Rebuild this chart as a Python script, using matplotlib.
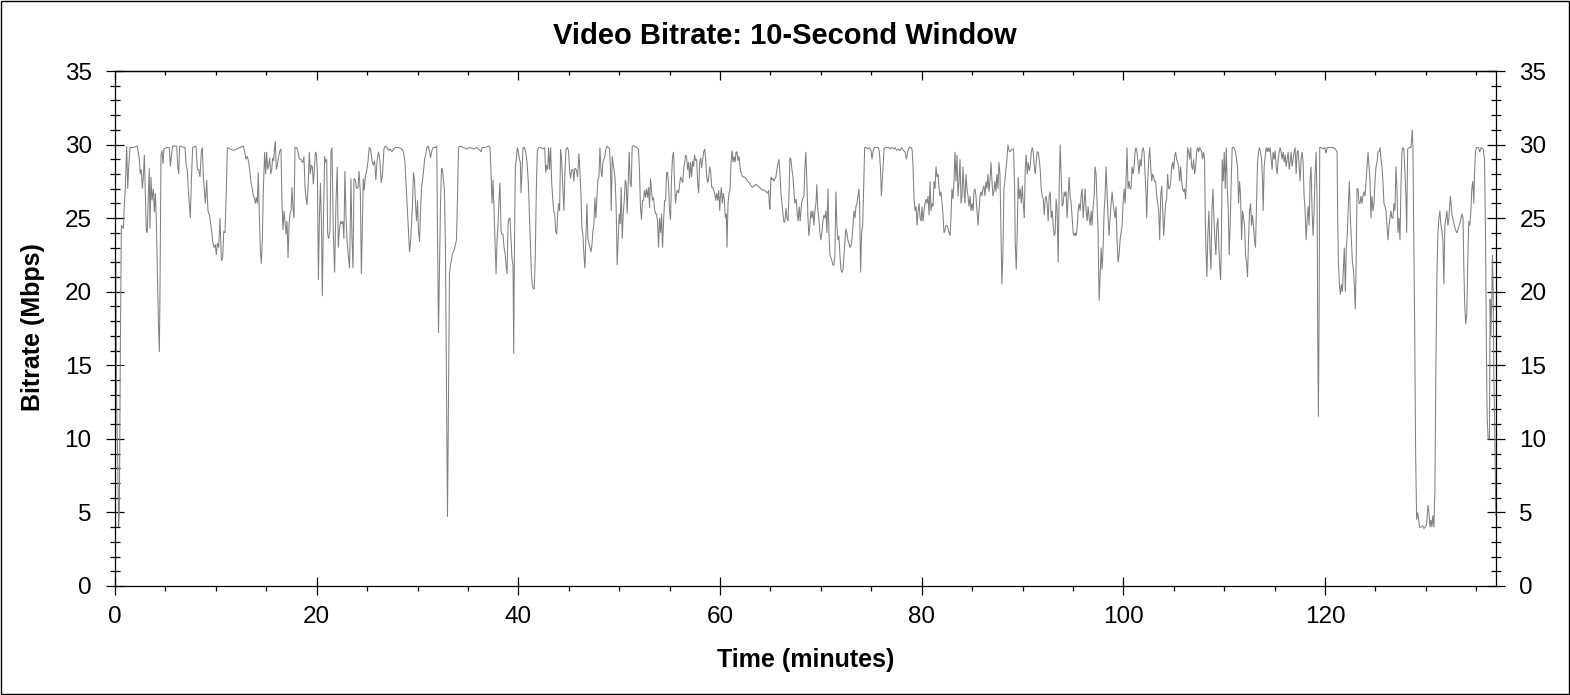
import matplotlib
matplotlib.use("Agg")
import matplotlib.pyplot as plt
from matplotlib.ticker import MultipleLocator
from matplotlib.patches import Rectangle

# ---------------- chart text ----------------
title_text = "Video Bitrate: 10-Second Window"
x_label = "Time (minutes)"
y_label = "Bitrate (Mbps)"
x_ticks = [0, 20, 40, 60, 80, 100, 120]
y_ticks = [0, 5, 10, 15, 20, 25, 30, 35]
x_max = 136.95
y_max = 35

# ---------------- data: (minute, Mbps) ----------------
samples_0_21 = [
    (0.0, 0.5), (0.03, 7.5), (0.07, 22.0), (0.17, 12.0), (0.26, 9.0), (0.36, 4.0), (0.43, 5.0),
    (0.53, 16.0), (0.63, 24.5), (0.83, 24.3), (0.93, 26.0), (1.02, 27.0), (1.16, 29.9), (1.26, 27.0),
    (1.36, 28.5), (1.49, 29.8), (1.82, 29.8), (2.21, 29.9), (2.41, 29.0), (2.51, 28.0), (2.61, 28.3),
    (2.71, 27.0), (2.81, 27.8), (2.91, 29.3), (3.0, 27.0), (3.1, 24.2), (3.2, 24.0), (3.3, 26.5),
    (3.4, 28.4), (3.47, 24.3), (3.57, 27.8), (3.67, 26.2), (3.8, 27.0), (3.9, 25.4), (4.0, 26.7),
    (4.1, 24.8), (4.2, 21.3), (4.3, 18.0), (4.4, 15.9), (4.46, 20.0), (4.56, 29.3), (4.66, 29.6),
    (4.76, 28.7), (4.86, 29.7), (5.12, 29.8), (5.39, 29.8), (5.49, 28.5), (5.59, 29.2), (5.72, 29.9),
    (6.12, 29.9), (6.22, 28.5), (6.32, 28.0), (6.41, 29.9), (6.94, 29.8), (7.07, 28.5), (7.17, 28.3),
    (7.27, 26.9), (7.37, 26.0), (7.47, 25.0), (7.57, 27.5), (7.7, 29.8), (8.03, 29.9), (8.17, 28.3),
    (8.3, 28.3), (8.43, 27.8), (8.56, 29.5), (8.66, 29.8), (8.76, 27.8), (8.86, 26.9), (8.96, 26.0),
    (9.09, 27.6), (9.22, 25.5), (9.36, 25.2), (9.45, 24.8), (9.59, 24.1), (9.69, 23.4), (9.82, 23.0),
    (9.95, 23.2), (10.05, 22.5), (10.15, 23.3), (10.28, 23.0), (10.41, 25.0), (10.55, 22.1),
    (10.68, 22.3), (10.78, 24.1), (10.91, 24.0), (11.04, 26.9), (11.14, 29.8), (11.4, 29.7),
    (11.74, 29.6), (12.07, 29.7), (12.4, 29.8), (12.73, 29.9), (12.86, 29.5), (12.99, 29.0),
    (13.12, 29.2), (13.26, 28.8), (13.39, 28.1), (13.49, 27.4), (13.59, 27.1), (13.72, 26.5),
    (13.82, 26.4), (13.92, 26.0), (14.02, 26.4), (14.12, 26.0), (14.21, 28.1), (14.31, 25.3),
    (14.41, 22.9), (14.51, 21.9), (14.61, 23.5), (14.71, 26.9), (14.84, 29.5), (14.94, 28.0),
    (15.04, 29.5), (15.14, 28.3), (15.24, 28.6), (15.34, 29.1), (15.44, 28.0), (15.54, 28.3),
    (15.64, 29.1), (15.74, 28.9), (15.83, 29.8), (15.9, 30.2), (16.0, 28.3), (16.1, 28.6),
    (16.23, 29.2), (16.36, 29.6), (16.46, 29.7), (16.56, 26.0), (16.66, 24.2), (16.76, 25.5),
    (16.86, 24.8), (16.96, 23.9), (17.06, 24.8), (17.16, 22.3), (17.26, 24.6), (17.36, 25.3),
    (17.46, 25.5), (17.55, 27.1), (17.65, 25.7), (17.75, 25.0), (17.85, 29.8), (18.02, 29.8),
    (18.15, 29.5), (18.25, 29.1), (18.35, 29.0), (18.45, 29.0), (18.55, 28.8), (18.64, 28.8),
    (18.74, 29.2), (18.84, 27.1), (18.94, 26.4), (19.04, 25.9), (19.14, 27.0), (19.27, 29.5),
    (19.37, 28.0), (19.47, 28.6), (19.57, 28.5), (19.67, 27.3), (19.77, 28.3), (19.87, 29.5),
    (19.97, 29.4), (20.07, 28.1), (20.17, 20.8), (20.27, 25.0), (20.37, 27.4), (20.47, 24.8),
    (20.56, 19.7), (20.66, 24.5), (20.79, 29.2), (20.89, 28.8), (20.99, 29.0), (21.09, 23.9),
    (21.19, 23.6), (21.32, 24.2),
]

samples_21_44 = [
    (21.42, 29.5), (21.52, 29.8), (21.65, 24.0), (21.78, 21.3), (21.91, 26.0), (22.04, 28.5),
    (22.14, 23.0), (22.24, 24.1), (22.37, 24.8), (22.5, 24.6), (22.6, 24.8), (22.7, 23.6),
    (22.8, 28.2), (22.9, 25.3), (23.0, 23.6), (23.13, 22.5), (23.26, 21.6), (23.4, 27.7),
    (23.5, 23.6), (23.6, 21.6), (23.7, 27.7), (23.83, 27.6), (23.96, 27.0), (24.1, 27.1),
    (24.2, 28.2), (24.33, 26.7), (24.43, 21.2), (24.52, 24.1), (24.62, 27.7), (24.72, 26.9),
    (24.82, 27.8), (24.95, 28.2), (25.08, 28.8), (25.21, 29.8), (25.34, 29.7), (25.48, 28.9),
    (25.61, 28.6), (25.74, 28.9), (25.87, 27.6), (26.0, 29.0), (26.14, 29.5), (26.27, 28.9),
    (26.4, 27.4), (26.53, 28.0), (26.67, 29.7), (26.8, 29.9), (26.96, 29.8), (27.13, 29.6),
    (27.3, 29.7), (27.46, 29.5), (27.63, 29.7), (27.79, 29.8), (28.12, 29.8), (28.45, 29.7),
    (28.61, 29.5), (28.75, 28.8), (28.88, 27.1), (29.01, 25.5), (29.11, 24.1), (29.21, 22.7),
    (29.31, 23.4), (29.41, 24.6), (29.5, 26.0), (29.6, 28.1), (29.7, 27.6), (29.8, 26.0),
    (29.9, 24.8), (30.0, 26.2), (30.1, 24.1), (30.2, 23.4), (30.3, 25.5), (30.4, 27.1),
    (30.5, 27.6), (30.6, 28.2), (30.7, 29.0), (30.8, 29.3), (30.93, 29.8), (31.06, 29.9),
    (31.2, 29.5), (31.29, 29.1), (31.39, 29.5), (31.53, 29.8), (31.76, 29.8), (31.91, 29.9),
    (31.98, 24.1), (32.08, 17.2), (32.18, 21.8), (32.28, 26.0), (32.38, 28.4), (32.47, 28.3),
    (32.57, 27.6), (32.67, 26.9), (32.77, 22.9), (32.87, 13.5), (32.97, 4.7), (33.04, 10.0),
    (33.1, 15.4), (33.17, 21.3), (33.27, 21.8), (33.37, 22.2), (33.47, 22.6), (33.56, 22.7),
    (33.66, 22.9), (33.76, 23.2), (33.86, 23.5), (33.96, 26.2), (34.06, 29.8), (34.22, 29.9),
    (34.55, 29.8), (34.88, 29.7), (35.21, 29.8), (35.54, 29.7), (35.87, 29.8), (36.2, 29.6),
    (36.3, 29.5), (36.4, 29.8), (36.7, 29.8), (37.03, 29.9), (37.19, 29.8), (37.29, 28.1),
    (37.39, 26.0), (37.49, 27.6), (37.59, 25.5), (37.69, 23.6), (37.79, 21.2), (37.89, 23.6),
    (37.99, 24.6), (38.09, 26.4), (38.18, 27.4), (38.28, 24.1), (38.38, 23.9), (38.48, 23.9),
    (38.58, 23.0), (38.68, 22.6), (38.78, 21.8), (38.88, 21.2), (38.98, 24.6), (39.08, 25.0),
    (39.17, 25.0), (39.27, 23.6), (39.37, 22.2), (39.47, 21.8), (39.54, 15.8), (39.6, 22.2),
    (39.7, 28.5), (39.8, 29.0), (39.9, 29.8), (40.0, 29.5), (40.1, 29.0), (40.2, 28.8),
    (40.26, 26.7), (40.36, 28.1), (40.46, 29.8), (40.59, 29.8), (40.73, 29.5), (40.86, 28.8),
    (40.99, 27.4), (41.09, 25.3), (41.19, 23.2), (41.29, 21.3), (41.39, 20.4), (41.49, 20.2),
    (41.58, 20.2), (41.68, 22.5), (41.78, 26.9), (41.88, 29.6), (42.01, 29.8), (42.21, 29.8),
    (42.48, 29.7), (42.61, 29.8), (42.71, 28.1), (42.81, 28.6), (42.91, 28.3), (43.0, 29.8),
    (43.1, 28.3), (43.2, 29.8), (43.3, 27.5), (43.4, 26.4), (43.5, 25.5), (43.6, 25.3),
    (43.7, 24.1), (43.8, 23.9), (43.9, 25.3), (44.0, 26.0),
]

samples_44_67 = [
    (44.09, 25.5), (44.19, 29.7), (44.29, 29.0), (44.42, 26.9), (44.52, 25.5), (44.62, 28.1),
    (44.72, 29.7), (44.88, 29.8), (44.98, 29.5), (45.08, 28.3), (45.18, 27.7), (45.28, 28.3),
    (45.41, 28.3), (45.5, 27.5), (45.6, 28.4), (45.74, 28.3), (45.87, 27.8), (46.0, 29.4),
    (46.1, 28.3), (46.2, 26.7), (46.3, 24.3), (46.4, 23.9), (46.5, 22.5), (46.6, 21.6),
    (46.7, 23.9), (46.8, 26.0), (46.9, 23.6), (47.0, 23.3), (47.1, 23.0), (47.2, 22.7),
    (47.3, 23.2), (47.39, 24.1), (47.49, 24.6), (47.59, 26.4), (47.69, 25.0), (47.79, 26.4),
    (47.89, 27.6), (47.99, 27.8), (48.09, 29.8), (48.19, 28.3), (48.29, 27.8), (48.38, 28.8),
    (48.48, 29.0), (48.58, 29.2), (48.68, 29.7), (48.81, 29.9), (48.94, 29.8), (49.04, 29.7),
    (49.14, 28.3), (49.21, 25.5), (49.31, 29.2), (49.41, 28.6), (49.51, 28.2), (49.6, 27.6),
    (49.7, 25.7), (49.8, 21.8), (49.9, 23.6), (50.0, 25.3), (50.1, 24.6), (50.2, 27.1),
    (50.3, 23.6), (50.4, 25.3), (50.5, 26.2), (50.6, 27.6), (50.69, 27.4), (50.79, 25.3),
    (50.89, 27.4), (50.99, 29.5), (51.09, 27.4), (51.19, 27.1), (51.29, 29.9), (51.52, 29.9),
    (51.75, 29.8), (51.91, 29.7), (52.01, 28.3), (52.11, 25.7), (52.21, 24.9), (52.31, 26.2),
    (52.41, 26.2), (52.51, 26.9), (52.61, 26.4), (52.71, 27.0), (52.81, 26.4), (52.91, 27.1),
    (53.01, 25.7), (53.1, 27.7), (53.2, 26.9), (53.3, 26.2), (53.4, 26.4), (53.5, 25.7),
    (53.6, 25.3), (53.7, 25.3), (53.8, 24.8), (53.9, 23.0), (54.0, 25.0), (54.1, 24.0),
    (54.2, 25.3), (54.3, 23.0), (54.4, 24.8), (54.5, 26.2), (54.6, 26.2), (54.7, 28.1),
    (54.79, 28.1), (54.89, 27.4), (54.99, 25.5), (55.09, 24.9), (55.19, 27.7), (55.29, 29.2),
    (55.39, 29.5), (55.49, 27.4), (55.59, 26.0), (55.69, 26.7), (55.79, 26.9), (55.89, 26.7),
    (55.99, 27.3), (56.09, 27.8), (56.19, 27.6), (56.29, 27.4), (56.39, 28.3), (56.49, 28.8),
    (56.59, 29.3), (56.69, 29.1), (56.78, 28.3), (56.88, 28.8), (56.98, 27.7), (57.08, 28.8),
    (57.18, 27.8), (57.28, 28.9), (57.38, 28.5), (57.48, 29.3), (57.58, 28.9), (57.68, 29.0),
    (57.78, 27.4), (57.88, 26.7), (57.98, 28.8), (58.08, 29.1), (58.18, 28.4), (58.28, 29.0),
    (58.38, 29.5), (58.48, 29.7), (58.58, 29.0), (58.68, 27.8), (58.78, 27.4), (58.88, 27.8),
    (58.98, 28.5), (59.08, 28.1), (59.17, 27.1), (59.27, 27.1), (59.37, 26.9), (59.47, 26.7),
    (59.57, 26.2), (59.67, 26.7), (59.77, 26.2), (59.87, 26.9), (59.97, 25.5), (60.03, 26.4),
    (60.13, 27.1), (60.23, 26.0), (60.33, 26.7), (60.43, 26.2), (60.53, 25.0), (60.63, 25.3),
    (60.69, 23.0), (60.79, 26.0), (60.89, 26.7), (60.99, 26.9), (61.09, 28.8), (61.19, 29.6),
    (61.29, 28.8), (61.39, 29.2), (61.49, 28.8), (61.59, 29.5), (61.68, 29.5), (61.78, 28.9),
    (61.88, 29.2), (61.98, 28.5), (62.08, 28.1), (62.24, 27.8), (62.41, 27.8), (62.57, 27.7),
    (62.74, 27.5), (62.9, 27.4), (63.07, 27.2), (63.23, 27.1), (63.4, 27.2), (63.56, 27.3),
    (63.73, 27.2), (63.89, 27.1), (64.06, 27.0), (64.22, 26.9), (64.39, 26.9), (64.55, 26.8),
    (64.72, 26.7), (64.82, 26.9), (64.88, 26.0), (64.95, 25.6), (65.05, 27.8), (65.15, 27.6),
    (65.25, 27.7), (65.35, 27.5), (65.45, 27.7), (65.54, 27.8), (65.64, 28.3), (65.74, 28.7),
    (65.84, 29.0), (65.94, 28.1), (66.04, 26.7), (66.14, 26.0), (66.24, 25.3), (66.34, 24.7),
    (66.44, 24.8), (66.54, 25.7), (66.64, 25.0), (66.74, 24.8), (66.83, 26.4), (66.93, 29.1),
    (67.03, 29.0), (67.13, 28.3), (67.23, 27.8), (67.33, 26.8),
]

samples_67_89 = [
    (67.42, 26.0), (67.55, 26.3), (67.65, 25.3), (67.75, 24.8), (67.85, 25.8), (67.95, 24.8),
    (68.08, 26.0), (68.18, 26.3), (68.32, 26.5), (68.42, 28.5), (68.51, 29.5), (68.61, 27.5),
    (68.71, 25.2), (68.81, 23.8), (68.91, 24.5), (69.01, 25.5), (69.11, 25.0), (69.21, 25.5),
    (69.31, 24.5), (69.41, 25.5), (69.51, 26.0), (69.6, 27.3), (69.7, 25.5), (69.8, 25.0),
    (69.9, 24.0), (70.0, 23.5), (70.1, 24.0), (70.2, 24.8), (70.3, 25.2), (70.4, 25.0),
    (70.5, 25.5), (70.6, 24.0), (70.7, 27.0), (70.8, 24.0), (70.9, 22.5), (71.0, 22.3),
    (71.1, 22.1), (71.2, 21.8), (71.29, 21.8), (71.39, 22.5), (71.49, 26.8), (71.59, 24.5),
    (71.69, 23.5), (71.79, 23.8), (71.89, 22.5), (71.99, 21.5), (72.09, 21.3), (72.19, 21.5),
    (72.29, 22.5), (72.38, 23.5), (72.48, 24.3), (72.58, 24.0), (72.68, 23.5), (72.78, 23.3),
    (72.88, 23.0), (72.98, 23.1), (73.08, 23.5), (73.18, 24.5), (73.28, 25.5), (73.38, 25.0),
    (73.48, 25.8), (73.58, 26.0), (73.68, 26.5), (73.78, 27.0), (73.84, 26.0), (73.94, 21.3),
    (74.04, 24.0), (74.14, 24.5), (74.24, 27.0), (74.34, 29.8), (74.5, 29.8), (74.67, 29.7),
    (74.83, 29.8), (74.97, 29.6), (75.07, 29.0), (75.17, 29.5), (75.3, 29.8), (75.5, 29.8),
    (75.7, 29.8), (75.8, 29.5), (75.9, 28.5), (76.0, 26.5), (76.07, 27.3), (76.17, 28.5),
    (76.27, 29.7), (76.4, 29.8), (76.57, 29.8), (76.73, 29.8), (76.86, 29.7), (77.03, 29.8),
    (77.19, 29.7), (77.36, 29.8), (77.52, 29.6), (77.69, 29.7), (77.85, 29.6), (78.02, 29.8),
    (78.18, 29.6), (78.35, 29.5), (78.48, 29.0), (78.61, 29.5), (78.75, 29.8), (78.91, 29.8),
    (79.04, 29.7), (79.14, 28.5), (79.24, 26.3), (79.34, 25.5), (79.44, 25.8), (79.54, 24.5),
    (79.64, 25.5), (79.74, 26.0), (79.84, 25.0), (79.94, 24.8), (80.03, 25.8), (80.13, 24.8),
    (80.23, 25.5), (80.33, 26.0), (80.43, 26.3), (80.53, 26.0), (80.63, 26.5), (80.73, 25.2),
    (80.83, 27.5), (80.92, 25.5), (81.02, 26.0), (81.12, 25.8), (81.22, 27.5), (81.32, 27.0),
    (81.42, 28.5), (81.52, 27.8), (81.62, 28.0), (81.72, 27.0), (81.82, 26.5), (81.92, 26.8),
    (82.01, 26.0), (82.11, 25.2), (82.21, 24.0), (82.31, 24.2), (82.41, 24.5), (82.51, 24.5),
    (82.61, 24.3), (82.71, 24.0), (82.81, 23.8), (82.9, 25.0), (83.0, 27.0), (83.1, 26.3),
    (83.2, 27.5), (83.3, 29.5), (83.4, 27.5), (83.5, 29.3), (83.6, 26.5), (83.7, 27.5),
    (83.8, 29.0), (83.9, 26.0), (84.0, 26.5), (84.09, 28.5), (84.19, 27.0), (84.29, 26.0),
    (84.39, 28.0), (84.49, 27.0), (84.59, 26.5), (84.69, 25.8), (84.79, 26.5), (84.89, 25.5),
    (84.99, 26.0), (85.09, 25.5), (85.18, 26.8), (85.28, 27.0), (85.38, 26.5), (85.48, 25.5),
    (85.58, 24.5), (85.68, 25.5), (85.78, 26.5), (85.88, 26.8), (85.97, 26.5), (86.07, 27.0),
    (86.17, 27.2), (86.27, 26.5), (86.37, 27.5), (86.47, 27.0), (86.57, 28.0), (86.67, 26.8),
    (86.77, 27.5), (86.87, 28.8), (86.97, 27.5), (87.06, 26.5), (87.16, 26.8), (87.26, 27.5),
    (87.36, 26.8), (87.46, 28.0), (87.56, 27.0), (87.66, 28.8), (87.76, 28.0), (87.86, 24.0),
    (87.95, 20.5), (88.05, 22.5), (88.15, 27.0), (88.25, 27.5), (88.35, 28.3), (88.45, 29.0),
    (88.55, 30.0), (88.65, 29.6), (88.75, 29.5), (88.84, 29.6), (88.98, 29.7), (89.11, 29.7),
    (89.21, 27.0), (89.27, 23.5), (89.37, 21.5), (89.47, 24.0), (89.57, 27.8), (89.67, 26.3),
]

samples_89_112 = [
    (89.77, 27.0), (89.87, 26.0), (89.97, 27.2), (90.07, 26.0), (90.17, 25.0), (90.26, 28.3),
    (90.36, 29.3), (90.46, 28.0), (90.56, 28.8), (90.66, 28.2), (90.76, 28.5), (90.86, 29.5),
    (90.96, 29.8), (91.06, 29.5), (91.16, 28.5), (91.26, 28.0), (91.35, 28.8), (91.45, 29.5),
    (91.55, 29.5), (91.65, 29.0), (91.75, 28.3), (91.85, 27.0), (91.95, 26.5), (92.05, 26.3),
    (92.15, 25.2), (92.25, 26.3), (92.34, 26.5), (92.44, 26.0), (92.54, 24.8), (92.64, 26.5),
    (92.74, 26.8), (92.84, 25.0), (92.94, 25.5), (93.04, 24.5), (93.14, 23.8), (93.23, 24.0),
    (93.33, 26.3), (93.43, 25.5), (93.53, 22.0), (93.63, 27.0), (93.73, 30.0), (93.83, 28.0),
    (93.93, 25.8), (94.03, 26.0), (94.13, 26.8), (94.22, 26.5), (94.32, 26.8), (94.42, 25.0),
    (94.52, 26.5), (94.62, 27.8), (94.72, 26.5), (94.82, 26.0), (94.92, 25.0), (95.02, 24.0),
    (95.12, 23.8), (95.21, 24.0), (95.31, 23.8), (95.41, 24.3), (95.51, 25.5), (95.61, 26.0),
    (95.71, 25.5), (95.81, 26.5), (95.91, 27.0), (96.01, 25.0), (96.11, 26.0), (96.2, 27.0),
    (96.3, 25.5), (96.4, 24.8), (96.5, 25.8), (96.6, 25.0), (96.7, 24.5), (96.8, 25.5),
    (96.9, 24.5), (97.0, 25.8), (97.1, 26.5), (97.19, 28.5), (97.29, 28.0), (97.39, 26.0),
    (97.49, 24.0), (97.59, 19.4), (97.69, 21.0), (97.79, 23.0), (97.89, 21.5), (97.99, 23.0),
    (98.09, 25.5), (98.18, 26.5), (98.28, 28.5), (98.38, 26.8), (98.48, 25.0), (98.58, 23.8),
    (98.68, 25.0), (98.78, 26.0), (98.88, 26.8), (98.98, 26.0), (99.08, 25.5), (99.17, 25.0),
    (99.27, 25.8), (99.37, 23.5), (99.47, 22.0), (99.57, 22.5), (99.67, 23.5), (99.77, 24.0),
    (99.87, 24.5), (99.97, 26.0), (100.07, 27.0), (100.17, 26.0), (100.26, 27.5), (100.36, 29.8),
    (100.46, 27.0), (100.56, 27.5), (100.66, 27.0), (100.76, 27.0), (100.86, 28.5), (100.96, 28.0),
    (101.06, 28.5), (101.16, 29.5), (101.25, 29.8), (101.35, 29.5), (101.45, 28.8), (101.55, 28.0),
    (101.65, 29.0), (101.75, 28.5), (101.85, 29.5), (101.95, 29.8), (102.05, 29.5), (102.15, 28.0),
    (102.25, 26.5), (102.31, 25.0), (102.41, 27.5), (102.51, 29.0), (102.61, 29.8), (102.71, 28.5),
    (102.81, 27.5), (102.9, 28.0), (103.0, 27.8), (103.1, 27.5), (103.2, 27.5), (103.3, 26.5),
    (103.4, 26.0), (103.5, 25.5), (103.6, 23.5), (103.7, 26.5), (103.8, 27.2), (103.9, 25.5),
    (104.0, 23.8), (104.09, 25.0), (104.19, 26.0), (104.29, 26.3), (104.39, 28.0), (104.49, 27.0),
    (104.59, 27.0), (104.69, 27.5), (104.79, 28.5), (104.89, 28.8), (104.98, 28.3), (105.08, 29.2),
    (105.18, 29.5), (105.28, 29.0), (105.38, 28.8), (105.48, 28.5), (105.58, 27.5), (105.68, 28.5),
    (105.78, 27.5), (105.87, 27.0), (105.97, 26.8), (106.07, 27.0), (106.17, 26.3), (106.27, 27.8),
    (106.37, 29.8), (106.47, 29.5), (106.57, 29.0), (106.67, 29.8), (106.77, 28.5), (106.86, 28.3),
    (106.96, 29.0), (107.06, 28.0), (107.16, 28.5), (107.26, 29.5), (107.36, 29.8), (107.46, 29.5),
    (107.56, 29.8), (107.66, 29.7), (107.76, 29.5), (107.85, 29.0), (107.95, 29.5), (108.05, 29.0),
    (108.12, 25.0), (108.18, 23.0), (108.28, 21.0), (108.38, 24.0), (108.48, 25.5), (108.58, 23.0),
    (108.68, 21.5), (108.78, 25.5), (108.88, 27.0), (108.98, 25.0), (109.08, 23.5), (109.17, 22.5),
    (109.27, 24.5), (109.37, 25.0), (109.47, 23.0), (109.57, 21.5), (109.64, 20.8), (109.7, 22.5),
    (109.8, 29.0), (109.9, 27.5), (110.0, 29.5), (110.1, 27.0), (110.2, 29.8), (110.3, 27.0),
    (110.4, 25.5), (110.49, 22.5), (110.59, 24.5), (110.69, 27.5), (110.79, 29.8), (110.96, 29.8),
    (111.12, 29.5), (111.22, 29.0), (111.32, 28.5), (111.42, 26.0), (111.52, 27.5), (111.62, 26.5),
    (111.72, 23.5), (111.82, 25.5), (111.92, 25.0), (112.02, 24.5), (112.11, 22.5), (112.21, 22.0),
    (112.31, 21.0), (112.41, 23.5),
]

samples_112_132 = [
    (112.51, 25.5), (112.61, 26.0), (112.71, 24.5), (112.8, 25.2), (112.9, 24.5), (113.0, 23.5),
    (113.1, 23.0), (113.2, 26.0), (113.3, 28.8), (113.4, 29.5), (113.5, 29.8), (113.6, 29.5),
    (113.7, 29.0), (113.8, 27.5), (113.86, 25.5), (113.96, 28.5), (114.06, 29.2), (114.16, 29.8),
    (114.26, 29.5), (114.36, 29.8), (114.46, 29.5), (114.55, 29.8), (114.65, 29.0), (114.75, 28.3),
    (114.85, 29.5), (114.95, 29.0), (115.05, 29.6), (115.15, 28.5), (115.25, 28.0), (115.35, 29.0),
    (115.45, 29.5), (115.54, 29.8), (115.64, 29.5), (115.74, 29.0), (115.84, 29.5), (115.94, 28.8),
    (116.04, 29.3), (116.14, 28.5), (116.24, 29.0), (116.34, 29.5), (116.44, 28.3), (116.53, 28.8),
    (116.63, 29.5), (116.73, 28.5), (116.83, 29.0), (116.93, 29.5), (117.03, 29.8), (117.13, 28.0),
    (117.23, 29.5), (117.33, 29.6), (117.43, 28.5), (117.52, 27.5), (117.62, 29.0), (117.72, 29.5),
    (117.82, 28.8), (117.92, 26.5), (118.02, 25.5), (118.12, 23.5), (118.22, 24.8), (118.32, 25.8),
    (118.42, 24.5), (118.51, 27.5), (118.61, 28.5), (118.71, 25.5), (118.81, 23.8), (118.91, 25.5),
    (119.01, 28.0), (119.11, 29.5), (119.21, 26.0), (119.27, 17.0), (119.34, 11.5), (119.41, 19.0),
    (119.47, 29.8), (119.64, 29.8), (119.8, 29.7), (119.97, 29.8), (120.1, 29.4), (120.2, 29.8),
    (120.43, 29.8), (120.76, 29.8), (121.02, 29.7), (121.19, 29.5), (121.25, 25.0), (121.32, 22.0),
    (121.42, 20.5), (121.52, 19.8), (121.62, 20.5), (121.72, 20.0), (121.82, 21.5), (121.91, 23.0),
    (122.01, 20.0), (122.11, 23.0), (122.21, 24.0), (122.31, 26.0), (122.41, 27.5), (122.51, 25.0),
    (122.61, 23.5), (122.71, 22.0), (122.81, 21.5), (122.9, 20.5), (123.0, 18.8), (123.07, 21.5),
    (123.17, 27.0), (123.27, 27.0), (123.37, 26.0), (123.47, 26.0), (123.56, 26.5), (123.66, 26.0),
    (123.76, 26.5), (123.86, 26.8), (123.96, 26.5), (124.06, 27.5), (124.16, 28.5), (124.26, 29.5),
    (124.36, 28.5), (124.46, 27.5), (124.55, 25.0), (124.65, 26.5), (124.75, 25.5), (124.85, 26.0),
    (124.95, 27.5), (125.05, 28.5), (125.15, 28.8), (125.25, 29.5), (125.35, 29.5), (125.45, 29.8),
    (125.55, 29.0), (125.64, 28.5), (125.74, 27.5), (125.84, 26.0), (125.94, 25.8), (126.04, 25.5),
    (126.14, 24.5), (126.24, 23.5), (126.34, 24.5), (126.44, 25.0), (126.53, 25.5), (126.63, 25.0),
    (126.73, 25.0), (126.83, 26.0), (126.93, 25.5), (127.03, 28.5), (127.13, 27.0), (127.23, 24.0),
    (127.33, 25.0), (127.43, 23.5), (127.52, 27.0), (127.62, 29.5), (127.72, 29.8), (127.82, 29.7),
    (127.92, 28.0), (128.02, 26.5), (128.09, 24.0), (128.19, 29.7), (128.35, 29.8), (128.52, 29.8),
    (128.65, 31.0), (128.71, 29.8), (128.78, 25.0), (128.88, 18.0), (128.98, 9.0), (129.08, 4.5),
    (129.18, 5.0), (129.27, 4.5), (129.37, 4.0), (129.5, 4.0), (129.67, 4.1), (129.8, 3.9),
    (129.93, 4.0), (130.07, 4.2), (130.2, 5.5), (130.3, 5.0), (130.4, 4.0), (130.5, 4.5),
    (130.59, 4.0), (130.69, 4.8), (130.79, 4.0), (130.89, 6.5), (130.99, 15.0), (131.09, 21.0),
    (131.19, 24.0), (131.29, 25.0), (131.39, 25.5), (131.49, 24.5), (131.58, 24.2), (131.68, 23.5),
    (131.78, 20.5), (131.88, 24.5), (131.98, 25.0), (132.08, 25.5), (132.18, 24.5), (132.28, 25.0),
]

samples_132_137 = [
    (132.42, 26.5), (132.59, 25.2), (132.75, 24.7), (132.92, 24.2), (133.09, 24.0), (133.25, 24.4),
    (133.42, 24.8), (133.58, 25.3), (133.68, 25.0), (133.75, 22.0), (133.85, 19.0), (133.95, 17.8),
    (134.05, 18.5), (134.15, 22.0), (134.25, 24.8), (134.35, 24.5), (134.45, 25.3), (134.55, 27.0),
    (134.65, 27.5), (134.75, 26.0), (134.81, 27.8), (134.91, 29.5), (135.01, 29.8), (135.21, 29.8),
    (135.34, 29.5), (135.47, 29.8), (135.67, 29.7), (135.81, 29.0), (135.91, 24.0), (136.0, 16.0),
    (136.07, 11.5), (136.17, 10.0), (136.3, 10.0), (136.37, 19.5), (136.44, 17.0), (136.54, 19.8),
    (136.6, 22.5), (136.67, 20.0), (136.74, 14.0), (136.8, 12.0), (136.87, 8.0), (136.93, 4.8),
]

segments = [samples_0_21, samples_21_44, samples_44_67, samples_67_89,
            samples_89_112, samples_112_132, samples_132_137]
time_min = [t for seg in segments for t, _ in seg]
bitrate_mbps = [v for seg in segments for _, v in seg]

# ---------------- figure ----------------
plt.rcParams['font.family'] = ['Liberation Sans', 'DejaVu Sans']
W, H = 1570, 695
fig = plt.figure(figsize=(W / 100, H / 100), dpi=100)
fig.patch.set_facecolor('white')

ax_l, ax_r, ax_t, ax_b = 115, 1496, 71, 586
ax = fig.add_axes([ax_l / W, 1 - ax_b / H, (ax_r - ax_l) / W, (ax_b - ax_t) / H])
ax.plot(time_min, bitrate_mbps, color='#808080', lw=0.75, solid_joinstyle='miter')

ax.set_xlim(0, x_max)
ax.set_ylim(0, y_max)
for s in ax.spines.values():
    s.set_linewidth(0.9)
    s.set_color('black')

ax.set_xticks(x_ticks)
ax.set_xticklabels([str(v) for v in x_ticks])
ax.xaxis.set_minor_locator(MultipleLocator(5))
ax.set_yticks(y_ticks)
ax.set_yticklabels([str(v) for v in y_ticks])
ax.yaxis.set_minor_locator(MultipleLocator(1))

ax.tick_params(axis='x', which='major', direction='inout', length=12.5, width=0.9,
               labelsize=17.5, pad=8.5, top=False, colors='black')
ax.tick_params(axis='x', which='minor', direction='out', length=3.6, width=0.9, top=False)
ax.tick_params(axis='y', which='major', direction='inout', length=12.5, width=0.9,
               labelsize=17.5, pad=10.5, left=True, right=True, labelleft=True, labelright=True)
ax.tick_params(axis='y', which='minor', direction='inout', length=7, width=0.9,
               left=True, right=True)

secx = ax.secondary_xaxis('top')
secx.set_xticks(x_ticks)
secx.xaxis.set_minor_locator(MultipleLocator(5))
secx.tick_params(axis='x', which='major', direction='in', length=6.5, width=0.9, labeltop=False)
secx.tick_params(axis='x', which='minor', direction='in', length=3, width=0.9)
secx.spines['top'].set_linewidth(0.9)

fig.text(0.5, 1 - 44 / H, title_text, ha='center', va='baseline',
         fontsize=21, fontweight='bold')
fig.text((ax_l + ax_r) / 2 / W, 1 - 667 / H, x_label, ha='center', va='baseline',
         fontsize=18, fontweight='bold')
fig.text(33.5 / W, 1 - 327 / H, y_label, ha='center', va='center',
         rotation=90, fontsize=18, fontweight='bold')

fig.add_artist(Rectangle((0.6 / W, 0.6 / H), 1 - 1.6 / W, 1 - 1.6 / H,
                         transform=fig.transFigure, fill=False, ec='black', lw=1.0))

fig.savefig('out.png', dpi=100, facecolor='white')
